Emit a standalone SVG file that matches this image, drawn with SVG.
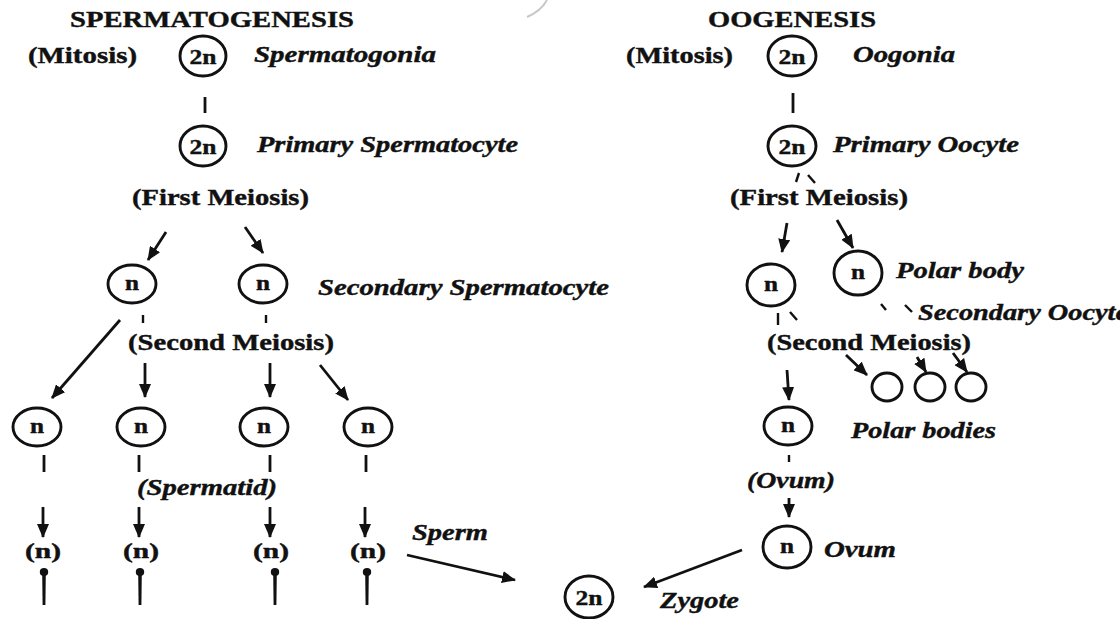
<svg xmlns="http://www.w3.org/2000/svg" width="1120" height="619" viewBox="0 0 1120 619">
<style>
text{font-family:"Liberation Serif","Times New Roman",serif;fill:#111;font-weight:bold;stroke:#111;stroke-width:0.4}
.t{font-size:23px}
.i{font-size:23px;font-style:italic}
.c{font-size:20px;text-anchor:middle}
.c2{font-size:22px;text-anchor:middle}
.cell{fill:none;stroke:#111;stroke-width:2.9}
.ln{stroke:#111;stroke-width:2.8;fill:none}
.ar{stroke:#111;stroke-width:2.8;fill:none;marker-end:url(#ah)}
.tk{stroke:#111;stroke-width:2.4;fill:none}
</style>
<defs>
<marker id="ah" viewBox="0 0 14 12" refX="13" refY="6" markerWidth="14" markerHeight="12" markerUnits="userSpaceOnUse" orient="auto">
<path d="M0,0 L14,6 L0,12 z" fill="#111"/>
</marker>
<g id="spermShape">
<ellipse cx="0" cy="0" rx="4.2" ry="4" fill="#111"/>
<path d="M-1.8,2 L1.8,2 L1.4,33 L-1.4,33 z" fill="#111"/>
</g>
</defs>
<rect width="1120" height="619" fill="#fff"/>
<path d="M527,17 Q541,11 547,0" fill="none" stroke="#c8c8c8" stroke-width="2"/>

<g id="titles">
<text class="t" x="70" y="27" textLength="284" lengthAdjust="spacingAndGlyphs">SPERMATOGENESIS</text>
<text class="t" x="708" y="27" textLength="168" lengthAdjust="spacingAndGlyphs">OOGENESIS</text>
<text class="t" x="28" y="63" textLength="109" lengthAdjust="spacingAndGlyphs">(Mitosis)</text>
<text class="t" x="626" y="63" textLength="107" lengthAdjust="spacingAndGlyphs">(Mitosis)</text>
<text class="t" x="132" y="205" textLength="177" lengthAdjust="spacingAndGlyphs">(First Meiosis)</text>
<text class="t" x="730" y="205" textLength="178" lengthAdjust="spacingAndGlyphs">(First Meiosis)</text>
<text class="t" x="128" y="350" textLength="206" lengthAdjust="spacingAndGlyphs">(Second Meiosis)</text>
<text class="t" x="767" y="350" textLength="204" lengthAdjust="spacingAndGlyphs">(Second Meiosis)</text>
<text class="i" x="137" y="495" textLength="140" lengthAdjust="spacingAndGlyphs">(Spermatid)</text>
<text class="i" x="747" y="488" textLength="88" lengthAdjust="spacingAndGlyphs">(Ovum)</text>
</g>

<g id="spermatogonia">
<ellipse class="cell" cx="203" cy="56" rx="23" ry="20"/>
<text class="c2" x="203" y="64" textLength="27" lengthAdjust="spacingAndGlyphs">2n</text>
<text class="i" x="254" y="62" textLength="182" lengthAdjust="spacingAndGlyphs">Spermatogonia</text>
</g>
<g id="primary-spermatocyte">
<ellipse class="cell" cx="203" cy="146" rx="23" ry="20"/>
<text class="c2" x="203" y="154" textLength="27" lengthAdjust="spacingAndGlyphs">2n</text>
<text class="i" x="257" y="152" textLength="261" lengthAdjust="spacingAndGlyphs">Primary Spermatocyte</text>
</g>
<g id="secondary-spermatocyte-1">
<ellipse class="cell" cx="132" cy="284" rx="24" ry="19"/>
<text class="c" x="132" y="290" textLength="14" lengthAdjust="spacingAndGlyphs">n</text>
</g>
<g id="secondary-spermatocyte-2">
<ellipse class="cell" cx="263" cy="284" rx="24" ry="19"/>
<text class="c" x="263" y="290" textLength="14" lengthAdjust="spacingAndGlyphs">n</text>
<text class="i" x="318" y="295" textLength="291" lengthAdjust="spacingAndGlyphs">Secondary Spermatocyte</text>
</g>
<g id="spermatid-1">
<ellipse class="cell" cx="37" cy="427" rx="24" ry="19"/>
<text class="c" x="37" y="433" textLength="14" lengthAdjust="spacingAndGlyphs">n</text>
</g>
<g id="spermatid-2">
<ellipse class="cell" cx="141" cy="427" rx="24" ry="19"/>
<text class="c" x="141" y="433" textLength="14" lengthAdjust="spacingAndGlyphs">n</text>
</g>
<g id="spermatid-3">
<ellipse class="cell" cx="264" cy="427" rx="24" ry="19"/>
<text class="c" x="264" y="433" textLength="14" lengthAdjust="spacingAndGlyphs">n</text>
</g>
<g id="spermatid-4">
<ellipse class="cell" cx="368" cy="427" rx="24" ry="19"/>
<text class="c" x="368" y="433" textLength="14" lengthAdjust="spacingAndGlyphs">n</text>
</g>
<g id="sperm-1">
<text class="c" x="43" y="558" textLength="36" lengthAdjust="spacingAndGlyphs">(n)</text>
<use href="#spermShape" x="44" y="572"/>
</g>
<g id="sperm-2">
<text class="c" x="141" y="558" textLength="36" lengthAdjust="spacingAndGlyphs">(n)</text>
<use href="#spermShape" x="140" y="572"/>
</g>
<g id="sperm-3">
<text class="c" x="271" y="558" textLength="36" lengthAdjust="spacingAndGlyphs">(n)</text>
<use href="#spermShape" x="275" y="572"/>
</g>
<g id="sperm-4">
<text class="c" x="368" y="558" textLength="36" lengthAdjust="spacingAndGlyphs">(n)</text>
<use href="#spermShape" x="367" y="572"/>
<text class="i" x="412" y="540" textLength="76" lengthAdjust="spacingAndGlyphs">Sperm</text>
</g>

<g id="oogonia">
<ellipse class="cell" cx="792" cy="56" rx="24" ry="20"/>
<text class="c2" x="792" y="64" textLength="27" lengthAdjust="spacingAndGlyphs">2n</text>
<text class="i" x="853" y="62" textLength="102" lengthAdjust="spacingAndGlyphs">Oogonia</text>
</g>
<g id="primary-oocyte">
<ellipse class="cell" cx="792" cy="146" rx="24" ry="20"/>
<text class="c2" x="792" y="154" textLength="27" lengthAdjust="spacingAndGlyphs">2n</text>
<text class="i" x="833" y="152" textLength="186" lengthAdjust="spacingAndGlyphs">Primary Oocyte</text>
</g>
<g id="secondary-oocyte">
<ellipse class="cell" cx="771" cy="285" rx="24" ry="21"/>
<text class="c" x="771" y="291" textLength="14" lengthAdjust="spacingAndGlyphs">n</text>
<text class="i" x="918" y="320" textLength="210" lengthAdjust="spacingAndGlyphs">Secondary Oocyte</text>
</g>
<g id="polar-body">
<ellipse class="cell" cx="858" cy="273" rx="24" ry="22"/>
<text class="c" x="858" y="279" textLength="14" lengthAdjust="spacingAndGlyphs">n</text>
<text class="i" x="896" y="278" textLength="128" lengthAdjust="spacingAndGlyphs">Polar body</text>
</g>
<g id="polar-bodies">
<ellipse class="cell" cx="887" cy="387" rx="15" ry="14"/>
<ellipse class="cell" cx="930" cy="387" rx="15" ry="14"/>
<ellipse class="cell" cx="971" cy="387" rx="15" ry="14"/>
</g>
<g id="ootid">
<ellipse class="cell" cx="788" cy="426" rx="24" ry="19"/>
<text class="c" x="788" y="432" textLength="14" lengthAdjust="spacingAndGlyphs">n</text>
<text class="i" x="851" y="438" textLength="145" lengthAdjust="spacingAndGlyphs">Polar bodies</text>
</g>
<g id="ovum">
<ellipse class="cell" cx="787" cy="547" rx="24" ry="21"/>
<text class="c" x="787" y="553" textLength="14" lengthAdjust="spacingAndGlyphs">n</text>
<text class="i" x="824" y="557" textLength="72" lengthAdjust="spacingAndGlyphs">Ovum</text>
</g>
<g id="zygote">
<ellipse class="cell" cx="589" cy="597" rx="24" ry="21"/>
<text class="c2" x="589" y="605" textLength="27" lengthAdjust="spacingAndGlyphs">2n</text>
<text class="i" x="660" y="608" textLength="79" lengthAdjust="spacingAndGlyphs">Zygote</text>
</g>

<g id="connectors">
<line class="ln" x1="205" y1="97" x2="205" y2="113"/>
<line class="ln" x1="793" y1="93" x2="793" y2="113"/>
<line class="ar" x1="166" y1="232" x2="148" y2="260"/>
<line class="ar" x1="245" y1="227" x2="263" y2="253"/>
<line class="tk" x1="143" y1="315" x2="143" y2="323"/>
<line class="tk" x1="266" y1="315" x2="266" y2="323"/>
<line class="ar" x1="120" y1="320" x2="52" y2="398"/>
<line class="ar" x1="145" y1="363" x2="145" y2="397"/>
<line class="ar" x1="270" y1="363" x2="270" y2="397"/>
<line class="ar" x1="320" y1="365" x2="348" y2="400"/>
<line class="ln" x1="44" y1="455" x2="44" y2="472"/>
<line class="ln" x1="139" y1="455" x2="139" y2="472"/>
<line class="ln" x1="270" y1="455" x2="270" y2="472"/>
<line class="ln" x1="366" y1="455" x2="366" y2="472"/>
<line class="ar" x1="43" y1="507" x2="43" y2="537"/>
<line class="ar" x1="139" y1="507" x2="139" y2="537"/>
<line class="ar" x1="270" y1="507" x2="270" y2="537"/>
<line class="ar" x1="365" y1="507" x2="365" y2="537"/>
<line class="ar" x1="407" y1="555" x2="515" y2="580"/>
<line class="tk" x1="799" y1="173" x2="796" y2="182"/>
<line class="tk" x1="808" y1="175" x2="815" y2="183"/>
<line class="ar" x1="787" y1="223" x2="782" y2="252"/>
<line class="ar" x1="837" y1="220" x2="853" y2="248"/>
<line class="tk" x1="778" y1="313" x2="778" y2="325"/>
<line class="tk" x1="790" y1="312" x2="797" y2="320"/>
<line class="tk" x1="881" y1="304" x2="886" y2="310"/>
<line class="tk" x1="905" y1="305" x2="912" y2="312"/>
<line class="ar" x1="787" y1="370" x2="789" y2="400"/>
<line class="ar" x1="846" y1="355" x2="867" y2="375"/>
<line class="ar" x1="917" y1="357" x2="926" y2="372"/>
<line class="ar" x1="953" y1="353" x2="967" y2="372"/>
<line class="tk" x1="789" y1="455" x2="789" y2="462"/>
<line class="ar" x1="789" y1="498" x2="789" y2="517"/>
<line class="ar" x1="742" y1="550" x2="644" y2="587"/>
</g>
</svg>
